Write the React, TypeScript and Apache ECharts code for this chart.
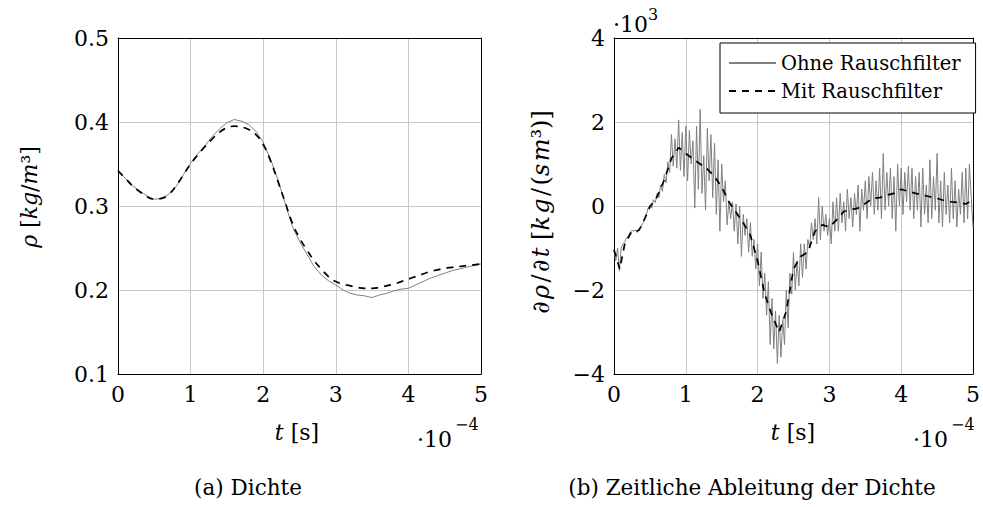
import React, { useEffect, useRef } from "react";
import * as echarts from "echarts";

const FONT = '"DejaVu Serif", serif';

// Left plot: density, t in units of 1e-4 s, sampled every 0.1
const rhoStep = 0.1;
const rhoRaw = [
  0.342, 0.333, 0.324, 0.318, 0.312, 0.308, 0.309, 0.314, 0.323, 0.337,
  0.351, 0.362, 0.372, 0.383, 0.392, 0.399, 0.403, 0.401, 0.397, 0.389,
  0.376, 0.356, 0.332, 0.304, 0.276, 0.258, 0.243, 0.228, 0.218, 0.211,
  0.206, 0.2, 0.196, 0.194, 0.193, 0.191, 0.194, 0.196, 0.199, 0.201,
  0.202, 0.206, 0.21, 0.214, 0.217, 0.22, 0.223, 0.225, 0.227, 0.229,
  0.231,
];
const rhoFilt = [
  0.342, 0.333, 0.324, 0.317, 0.311, 0.308, 0.309, 0.314, 0.324, 0.337,
  0.35, 0.361, 0.371, 0.38, 0.388, 0.393, 0.395, 0.394, 0.391, 0.385,
  0.373, 0.354, 0.33, 0.305, 0.28, 0.262, 0.248, 0.235, 0.225, 0.216,
  0.21, 0.207, 0.205, 0.203, 0.202, 0.202, 0.203, 0.205, 0.207, 0.21,
  0.213, 0.216, 0.219, 0.222, 0.224, 0.226, 0.227, 0.228, 0.229, 0.23,
  0.231,
];

// Right plot: time derivative (x 1e3), raw sampled every 0.025
const dStep = 0.025;
const dRaw = [
  -1.05, -1.3, -1.0, -1.55, -1.0, -0.9, -0.85, -0.75, -0.72, -0.62, -0.58, -0.6, -0.57, -0.63, -0.55, -0.5, -0.42, -0.3, -0.2, -0.05,
  0.02, -0.05, 0.15, 0.08, 0.3, 0.2, 0.5, 0.35, 0.75, 0.55, 1.05, 0.8, 1.7, 0.95, 1.6, 0.9, 2.05, 0.85, 1.75, 0.7,
  1.9, 0.6, 1.8, 1.0, 1.55, -0.05, 1.9, 0.4, 2.3, 0.3, 1.2, -0.1, 1.85, 0.6, 1.7, 0.2, 1.5, -0.2, 1.1, -0.6,
  1.0, 0.1, 0.6, -0.45, 0.1, -0.3, 0.1, -0.6, 0.05, -0.9, 0.0, -1.2, -0.2, -0.7, -0.3, -1.1, -0.4, -1.2, -0.8, -1.5,
  -0.9, -1.9, -1.1, -2.2, -1.6, -2.6, -1.8, -3.3, -2.2, -3.4, -2.5, -3.75, -2.6, -3.6, -2.7, -3.3, -2.0, -2.9, -1.6, -2.1,
  -1.1, -2.0, -1.3, -1.9, -0.9, -1.7, -0.9, -1.5, -0.8, -1.0, -0.4, -0.8, -0.3, -0.9, 0.2, -0.8, 0.0, -0.6, -0.2, -0.7,
  -0.3, -0.9, 0.1, -0.6, 0.2, -0.6, 0.3, -0.4, 0.1, -0.6, 0.4, -0.3, 0.2, -0.5, 0.3, -0.2, 0.5, -0.6, 0.4, -0.1,
  0.6, -0.3, 0.7, 0.0, 0.8, -0.2, 0.6, -0.1, 0.9, -0.3, 1.25, -0.1, 0.8, 0.0, 0.9, -0.3, 0.7, -0.6, 1.0, 0.0,
  0.9, -0.2, 0.8, 0.1, 0.95, -0.1, 0.9, -0.3, 0.7, -0.1, 0.8, -0.5, 0.9, -0.2, 0.5, -0.4, 1.1, -0.3, 0.7, -0.1,
  1.25, -0.4, 0.6, -0.5, 0.8, -0.2, 0.5, -0.4, 0.9, -0.3, 0.6, -0.5, 0.4, -0.2, 0.8, -0.4, 0.9, -0.3, 1.0, 0.2,
  -0.5,
];
const dFiltT = [
  0, 0.08, 0.15, 0.25, 0.3, 0.35, 0.4,
  0.5, 0.6, 0.7, 0.8, 0.9,
  1.0, 1.1, 1.2, 1.3, 1.4, 1.5, 1.6, 1.7, 1.8, 1.9,
  2.0, 2.1, 2.2, 2.3, 2.4, 2.5, 2.6, 2.7, 2.8, 2.9,
  3.0, 3.1, 3.2, 3.3, 3.4, 3.5, 3.6, 3.7, 3.8, 3.9,
  4.0, 4.1, 4.2, 4.3, 4.4, 4.5, 4.6, 4.7, 4.8, 4.9,
  5.0,
];
const dFiltV = [
  -1.04, -1.5, -0.9, -0.6, -0.61, -0.57, -0.41,
  -0.02, 0.22, 0.62, 1.13, 1.39,
  1.25, 1.12, 1.0, 0.88, 0.7, 0.45, 0.1, -0.15, -0.4, -0.7,
  -1.3, -2.1, -2.6, -3.0, -2.5, -1.5, -1.2, -1.1, -0.6, -0.45,
  -0.5, -0.33, -0.13, -0.09, -0.05, 0.06, 0.18, 0.2, 0.26, 0.3,
  0.4, 0.35, 0.3, 0.26, 0.22, 0.18, 0.13, 0.1, 0.08, 0.05,
  0.15,
];

const xTicks = [0, 1, 2, 3, 4, 5];
const rhoTicks = [0.1, 0.2, 0.3, 0.4, 0.5];
const dTicks = [-4, -2, 0, 2, 4];

const legendNames = ["Ohne Rauschfilter", "Mit Rauschfilter"];

const pairs = (vals: number[], step: number) => vals.map((v, i) => [+(i * step).toFixed(4), v]);
const zip = (ts: number[], vs: number[]) => ts.map((t, i) => [t, vs[i]]);
const fmtNum = (v: number, d: number) => (v < 0 ? "\u2212" : "") + Math.abs(v).toFixed(d);

const GRID_COLOR = "#c8c8c8";
const LABEL = { fontFamily: FONT, fontSize: 22, color: "#000" };

function xAxes(gridIndex: number) {
  return [
    {
      gridIndex,
      type: "value",
      position: "bottom",
      min: xTicks[0],
      max: xTicks[xTicks.length - 1],
      interval: 1,
      axisLine: { show: true, onZero: false, lineStyle: { color: "#000", width: 1 } },
      axisTick: { show: false },
      axisLabel: { ...LABEL, margin: 9, formatter: (v: number) => String(v) },
      splitLine: { show: true, showMinLine: false, showMaxLine: false, lineStyle: { color: GRID_COLOR, width: 1 } },
    },
    {
      gridIndex,
      type: "value",
      position: "top",
      min: xTicks[0],
      max: xTicks[xTicks.length - 1],
      interval: 1,
      axisLine: { show: true, onZero: false, lineStyle: { color: "#000", width: 1 } },
      axisTick: { show: false },
      axisLabel: { show: false },
      splitLine: { show: false },
    },
  ];
}

function yAxes(gridIndex: number, ticks: number[], interval: number, digits: number) {
  return [
    {
      gridIndex,
      type: "value",
      position: "left",
      min: ticks[0],
      max: ticks[ticks.length - 1],
      interval,
      axisLine: { show: true, onZero: false, lineStyle: { color: "#000", width: 1 } },
      axisTick: { show: false },
      axisLabel: { ...LABEL, margin: 9, formatter: (v: number) => fmtNum(v, digits) },
      splitLine: { show: true, showMinLine: false, showMaxLine: false, lineStyle: { color: GRID_COLOR, width: 1 } },
    },
    {
      gridIndex,
      type: "value",
      position: "right",
      min: ticks[0],
      max: ticks[ticks.length - 1],
      interval,
      axisLine: { show: true, onZero: false, lineStyle: { color: "#000", width: 1 } },
      axisTick: { show: false },
      axisLabel: { show: false },
      splitLine: { show: false },
    },
  ];
}

const rich = {
  i: { fontFamily: FONT, fontSize: 22, fontStyle: "italic", fill: "#000" },
  r: { fontFamily: FONT, fontSize: 22, fill: "#000" },
};
const richBig = {
  i: { fontFamily: FONT, fontSize: 24, fontStyle: "italic", fill: "#000" },
  r: { fontFamily: FONT, fontSize: 24, fill: "#000" },
};

function txt(x: number, y: number, text: string, fontSize: number, extra: any = {}) {
  return {
    type: "text",
    x,
    y,
    silent: true,
    style: {
      text,
      fontFamily: FONT,
      fontSize,
      fill: "#000",
      align: "left",
      verticalAlign: "middle",
      ...extra,
    },
  };
}

const HS = "\u200A"; // hair space for math-like spacing

export default function App() {
  const ref = useRef<HTMLDivElement>(null);
  useEffect(() => {
    if (!ref.current) return;
    const chart = echarts.init(ref.current, null, { renderer: "svg" });
    const option: any = {
      animation: false,
      backgroundColor: "#fff",
      grid: [
        { left: 118, top: 38, width: 363, height: 336 },
        { left: 614, top: 38, width: 363, height: 336 },
      ],
      xAxis: [...xAxes(0), ...xAxes(1)],
      yAxis: [...yAxes(0, rhoTicks, 0.1, 1), ...yAxes(1, dTicks, 2, 0)],
      legend: {
        data: legendNames,
        orient: "vertical",
        left: 720,
        top: 43,
        itemWidth: 47,
        itemHeight: 14,
        itemGap: 8,
        padding: [10, 15, 12, 8],
        borderColor: "#000",
        borderWidth: 1,
        backgroundColor: "#fff",
        selectedMode: false,
        itemStyle: { opacity: 0 },
        textStyle: { fontFamily: FONT, fontSize: 19.5, color: "#000", lineHeight: 20 },
      },
      series: [
        {
          name: "Dichte ohne Rauschfilter",
          type: "line",
          xAxisIndex: 0,
          yAxisIndex: 0,
          data: pairs(rhoRaw, rhoStep),
          symbol: "none",
          lineStyle: { color: "#808080", width: 1 },
          itemStyle: { color: "#808080" },
        },
        {
          name: "Dichte mit Rauschfilter",
          type: "line",
          xAxisIndex: 0,
          yAxisIndex: 0,
          data: pairs(rhoFilt, rhoStep),
          symbol: "none",
          smooth: true,
          lineStyle: { color: "#000", width: 1.7, type: [7, 6] },
          itemStyle: { color: "#000" },
        },
        {
          name: legendNames[0],
          type: "line",
          xAxisIndex: 2,
          yAxisIndex: 2,
          data: pairs(dRaw, dStep),
          symbol: "none",
          lineStyle: { color: "#808080", width: 1 },
          itemStyle: { color: "#808080" },
        },
        {
          name: legendNames[1],
          type: "line",
          xAxisIndex: 2,
          yAxisIndex: 2,
          data: zip(dFiltT, dFiltV),
          symbol: "none",
          lineStyle: { color: "#000", width: 1.7, type: [7, 6] },
          itemStyle: { color: "#000" },
        },
      ],
      graphic: [
        {
          type: "text",
          x: 29,
          y: 197,
          rotation: Math.PI / 2,
          silent: true,
          style: {
            text: "{i|ρ} {r|[}{i|kg}{r|/}{i|m}{r|³]}",
            rich,
            fontFamily: FONT,
            fontSize: 22,
            fill: "#000",
            align: "center",
            verticalAlign: "middle",
          },
        },
        {
          type: "text",
          x: 541,
          y: 212,
          rotation: Math.PI / 2,
          silent: true,
          style: {
            text:
              "{r|∂}{i|" + HS + "ρ" + HS + "}{r|/" + HS + "∂}{i|" + HS + "t}{r| [}{i|k" + HS + "g}{r|" + HS + "/" + HS + "(}{i|s" + HS + "m}{r|³)]}",
            rich: richBig,
            fontFamily: FONT,
            fontSize: 24,
            fill: "#000",
            align: "center",
            verticalAlign: "middle",
          },
        },
        {
          type: "text",
          x: 297,
          y: 432,
          silent: true,
          style: {
            text: "{i|t} {r|[s]}",
            rich,
            fontFamily: FONT,
            fontSize: 22,
            fill: "#000",
            align: "center",
            verticalAlign: "middle",
          },
        },
        {
          type: "text",
          x: 793,
          y: 432,
          silent: true,
          style: {
            text: "{i|t} {r|[s]}",
            rich,
            fontFamily: FONT,
            fontSize: 22,
            fill: "#000",
            align: "center",
            verticalAlign: "middle",
          },
        },
        txt(417, 439, "·10", 22),
        txt(455, 424, "\u22124", 16),
        txt(913, 439, "·10", 22),
        txt(951, 424, "\u22124", 16),
        txt(613, 24, "·10", 22),
        txt(648, 14, "3", 16),
        txt(248, 487, "(a) Dichte", 21.5, { align: "center" }),
        txt(752, 487, "(b) Zeitliche Ableitung der Dichte", 21.5, { align: "center" }),
      ],
    };
    chart.setOption(option);
    return () => chart.dispose();
  }, []);
  return (
    <div
      ref={ref}
      style={{ position: "fixed", left: 0, top: 0, width: 983, height: 507, background: "#fff" }}
    />
  );
}
